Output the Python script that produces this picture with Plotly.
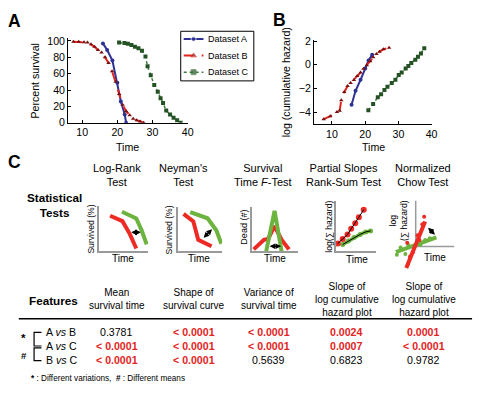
import plotly.graph_objects as go

# ---------------- data ----------------
# Panel A: percent survival vs time
a_time = [15.9, 17.1, 18.6, 20.0, 21.0, 22.1, 22.5]
a_surv = [97, 89, 76, 49, 26, 10, 0]
b_time = [7.5, 9.0, 10.5, 11.5, 12.5, 13.5, 14.5, 15.5, 16.5, 17.5, 18.5, 19.5, 20.5, 21.5, 22.5, 23.5, 24.5, 25.5, 26.5, 27.5]
b_surv = [99, 99, 98.5, 98, 96, 93, 89, 86, 80, 73, 63, 50, 35, 22, 14, 9, 5, 3, 1.5, 0]
c_time = [20.5, 22.0, 23.0, 24.0, 25.0, 26.0, 27.0, 28.0, 28.6, 29.5, 30.5, 31.5, 32.3, 33.0, 33.9, 35.0, 36.0, 37.0, 38.0]
c_surv = [98, 97.5, 96.5, 95, 93, 91, 88, 81, 69, 58, 46, 38, 30, 24, 15, 10, 6, 3, 0]

# Panel B: log cumulative hazard vs time
a_htime = [15.9, 17.1, 18.6, 20.0, 21.0, 22.1]
a_logh = [-3.39, -2.2, -1.28, -0.33, 0.35, 0.84]
b_htime = [7.5, 9.5, 11.5, 12.3, 12.8, 13.7, 14.7, 15.6, 16.6, 17.6, 18.6, 19.5, 20.5, 21.5, 22.4, 23.4, 24.3, 25.5, 27.2]
b_logh = [-4.6, -4.35, -4.0, -3.9, -3.0, -2.3, -1.8, -1.55, -1.3, -0.95, -0.67, -0.35, -0.05, 0.3, 0.63, 0.9, 1.1, 1.3, 1.44]
c_htime = [20.95, 22.4, 23.8, 24.8, 25.8, 26.7, 28.0, 29.1, 30.1, 31.0, 32.2, 33.0, 33.9, 35.1, 35.9, 36.8, 37.8]
c_logh = [-3.85, -3.31, -2.76, -2.5, -2.14, -1.87, -1.54, -1.28, -0.87, -0.67, -0.33, -0.11, 0.14, 0.41, 0.67, 0.95, 1.38]

series_names = ["Dataset A", "Dataset B", "Dataset C"]

# Panel C: schematic icons (arbitrary units)
lr_red_x = [2.3, 4.8, 6.3, 7.6]
lr_red_y = [7.9, 6.7, 3.8, 0.6]
lr_green_x = [4.7, 7.6, 8.7, 9.7]
lr_green_y = [8.8, 7.3, 4.6, 1.5]
ny_red_x = [1.3, 3.5, 4.6, 7.6]
ny_red_y = [8.5, 6.8, 2.6, 1.1]
ny_green_x = [2.8, 6.7, 8.7, 9.8]
ny_green_y = [8.9, 7.5, 4.7, 1.7]
ft_red_x = [0.4, 2.6, 3.5, 4.9, 6.4, 8.0]
ft_red_y = [0.4, 2.6, 2.8, 5.7, 2.6, 0.4]
ft_green_x = [3.1, 4.9, 6.4]
ft_green_y = [0.0, 9.2, 0.0]
ps_red_x = [0.5, 1.7, 2.9, 3.8, 4.8, 5.7, 6.9]
ps_red_y = [1.5, 2.4, 3.3, 4.4, 5.5, 6.7, 8.2]
ps_green_x = [1.7, 3.1, 4.5, 6.0, 7.4, 8.6]
ps_green_y = [1.3, 2.0, 2.7, 3.3, 3.8, 4.0]
ch_red_line_x = [-2.5, 2.5]
ch_red_line_y = [-4.9, 5.7]
ch_red_pts_x = [0.5, 1.75, -1.5, -2.0, -0.75, 2.25, 1.0, -2.25]
ch_red_pts_y = [2.55, 5.1, -2.3, -4.0, -1.3, 6.8, 1.5, 0.85]
ch_green_line_x = [-5.25, 5.5]
ch_green_line_y = [-1.3, 2.1]
ch_green_pts_x = [-4.0, -2.0, 1.25, 3.75, -2.75, 2.5, -5.0]
ch_green_pts_y = [-0.2, 0.4, 0.4, 1.9, -1.7, 1.5, -1.9]

test_names = ["Log-Rank<br>Test", "Neyman's<br>Test", "Survival<br>Time <i>F</i>-Test",
              "Partial Slopes<br>Rank-Sum Test", "Normalized<br>Chow Test"]
feature_names = ["Mean<br>survival time", "Shape of<br>survival curve", "Variance of<br>survival time",
                 "Slope of<br>log cumulative<br>hazard plot", "Slope of<br>log cumulative<br>hazard plot"]
comparisons = ["A <i>vs</i> B", "A <i>vs</i> C", "B <i>vs</i> C"]
p_values = [
    ["0.3781", "< 0.0001", "< 0.0001"],
    ["< 0.0001", "< 0.0001", "< 0.0001"],
    ["< 0.0001", "< 0.0001", "0.5639"],
    ["0.0024", "0.0007", "0.6823"],
    ["0.0001", "< 0.0001", "0.9782"],
]
significant = [
    [False, True, True],
    [True, True, True],
    [True, True, False],
    [True, True, False],
    [True, True, False],
]

# ---------------- layout helpers (pixel positions) ----------------
W, H = 484, 405
def X(p): return p / W
def Y(p): return 1 - p / H

FONT = "Arial, Liberation Sans, sans-serif"
BLUE = "#2e3192"
RED = "#e3241d"
DRED = "#7a1010"
GREEN = "#3c7a3c"
DGREEN = "#245224"
IRED = "#ee2a24"
IGREEN = "#6cb33f"
GRAY = "#9a9a9a"

fig = go.Figure()

styles = [
    dict(line=dict(color=BLUE, width=2), marker=dict(symbol="circle", size=4, color=BLUE)),
    dict(line=dict(color=RED, width=2, dash="dash"), marker=dict(symbol="triangle-up", size=4, color=DRED)),
    dict(line=dict(color=GREEN, width=1.5, dash="dot"), marker=dict(symbol="square", size=4, color=DGREEN)),
]
for (xs, ys), st, nm in zip([(a_time, a_surv), (b_time, b_surv), (c_time, c_surv)], styles, series_names):
    fig.add_trace(go.Scatter(x=xs, y=ys, name=nm, mode="lines+markers", showlegend=False,
                             xaxis="x", yaxis="y", **st))
for (xs, ys), st, nm in zip([(a_htime, a_logh), (b_htime, b_logh), (c_htime, c_logh)], styles, series_names):
    fig.add_trace(go.Scatter(x=xs, y=ys, name=nm, mode="lines+markers", showlegend=False,
                             xaxis="x2", yaxis="y2", **st))
# legend keys (axis 8 is in pixel units over the legend box)
leg_rows = [35, 52, 69]
for row, st in zip(leg_rows, styles):
    fig.add_trace(go.Scatter(x=[186, 196, 206], y=[row, row, row], mode="lines+markers", showlegend=False,
                             hoverinfo="skip", line=st["line"],
                             marker=dict(st["marker"], size=[0, 5, 0]), xaxis="x8", yaxis="y8"))

def icon_line(xs, ys, color, ax, width=4, mode="lines", msize=6):
    fig.add_trace(go.Scatter(x=xs, y=ys, mode=mode, showlegend=False, hoverinfo="skip",
                             line=dict(color=color, width=width), marker=dict(color=color, size=msize),
                             xaxis="x" + ax, yaxis="y" + ax))

icon_line(lr_red_x, lr_red_y, IRED, "3")
icon_line(lr_green_x, lr_green_y, IGREEN, "3")
icon_line(ny_red_x, ny_red_y, IRED, "4")
icon_line(ny_green_x, ny_green_y, IGREEN, "4")
icon_line(ft_red_x, ft_red_y, IRED, "5")
icon_line(ft_green_x, ft_green_y, IGREEN, "5")
icon_line(ps_green_x, ps_green_y, IGREEN, "6", width=3.5, mode="lines+markers", msize=5)
icon_line(ps_green_x, ps_green_y, "black", "6", width=1)
icon_line(ps_red_x, ps_red_y, IRED, "6", width=1.5, mode="markers", msize=6)
icon_line(ps_red_x, ps_red_y, "black", "6", width=1)
icon_line(ch_green_line_x, ch_green_line_y, IGREEN, "7", width=4)
icon_line(ch_green_pts_x, ch_green_pts_y, IGREEN, "7", mode="markers", msize=4)
icon_line(ch_red_line_x, ch_red_line_y, IRED, "7", width=4)
icon_line(ch_red_pts_x, ch_red_pts_y, IRED, "7", mode="markers", msize=4)

main_axis = dict(showline=True, linecolor="black", linewidth=1, ticks="inside", ticklen=3,
                 tickcolor="black", showgrid=False, zeroline=False,
                 tickfont=dict(size=10.6, color="black", family=FONT))
icon_axis = dict(showline=True, linecolor=GRAY, linewidth=1.5, ticks="", showticklabels=False,
                 showgrid=False, zeroline=False, range=[0, 10])
hidden_axis = dict(visible=False, showgrid=False, zeroline=False)
icon_boxes = {"3": (100, 150, 207, 253), "4": (180, 225, 208, 253), "5": (255, 302, 208, 253),
              "6": (340, 381, 201, 253)}

layout = dict(
    width=W, height=H, margin=dict(l=0, r=0, t=0, b=0), paper_bgcolor="white", plot_bgcolor="rgba(0,0,0,0)",
    font=dict(family=FONT, color="black"), showlegend=False,
    xaxis=dict(main_axis, domain=[X(69), X(190)], range=[6, 40], tickvals=[10, 20, 30, 40], anchor="y"),
    yaxis=dict(main_axis, domain=[Y(121), Y(33.6)], range=[0, 104], tickvals=[0, 20, 40, 60, 80, 100], anchor="x"),
    xaxis2=dict(main_axis, domain=[X(318), X(437)], range=[4.6, 40], tickvals=[10, 20, 30, 40], anchor="y2"),
    yaxis2=dict(main_axis, domain=[Y(122.2), Y(35.8)], range=[-5, 2.1], tickvals=[-4, -2, 0, 2], anchor="x2"),
    xaxis8=dict(hidden_axis, domain=[X(183), X(257)], range=[183, 257], anchor="y8"),
    yaxis8=dict(hidden_axis, domain=[Y(78), Y(27)], range=[78, 27], anchor="x8"),
)
for k, (x0, x1, y0, y1) in icon_boxes.items():
    layout["xaxis" + k] = dict(icon_axis, domain=[X(x0), X(x1)], anchor="y" + k)
    layout["yaxis" + k] = dict(icon_axis, domain=[Y(y1), Y(y0)], anchor="x" + k)
layout["xaxis7"] = dict(icon_axis, showline=False, domain=[X(398), X(461)], range=[-6, 10.5], anchor="y7")
layout["yaxis7"] = dict(icon_axis, showline=False, domain=[Y(273), Y(201)], range=[-5.5, 10.5], anchor="x7")
fig.update_layout(**layout)

shapes = [
    dict(type="rect", xref="paper", yref="paper", x0=X(183), y0=Y(78), x1=X(257), y1=Y(27),
         line=dict(color="black", width=1), fillcolor="rgba(0,0,0,0)"),
    dict(type="line", xref="x7", yref="y7", x0=0, y0=0, x1=0, y1=10.5, line=dict(color=GRAY, width=1.5), layer="below"),
    dict(type="line", xref="x7", yref="y7", x0=0, y0=0, x1=10.2, y1=0, line=dict(color=GRAY, width=1.5), layer="below"),
    dict(type="line", xref="paper", yref="paper", x0=X(19), y0=Y(322.5), x1=X(478), y1=Y(322.5), line=dict(color="black", width=1.5)),
    dict(type="path", xref="paper", yref="paper",
         path=f"M {X(42)} {Y(336.5)} L {X(34.5)} {Y(336.5)} L {X(34.5)} {Y(350.5)} L {X(42)} {Y(350.5)}",
         line=dict(color="black", width=1.2)),
    dict(type="path", xref="paper", yref="paper",
         path=f"M {X(42)} {Y(352.5)} L {X(34.5)} {Y(352.5)} L {X(34.5)} {Y(365.5)} L {X(42)} {Y(365.5)}",
         line=dict(color="black", width=1.2)),
]
fig.update_layout(shapes=shapes)

ann = []
def text(x, y, s, size=11, bold=False, xanchor="center", angle=0, color="black"):
    ann.append(dict(x=X(x), y=Y(y), xref="paper", yref="paper", text=("<b>%s</b>" % s) if bold else s,
                    showarrow=False, xanchor=xanchor, yanchor="middle", textangle=angle,
                    font=dict(size=size, color=color, family=FONT)))

text(15, 16, "A", size=17.5, bold=True)
text(283, 15, "B", size=17.5, bold=True)
text(15, 161, "C", size=17.5, bold=True)
text(35, 78, "Percent survival", size=10.6, angle=-90)
text(129, 146, "Time", size=10.6)
text(289, 79, "log (cumulative hazard)", size=10.6, angle=-90)
text(378, 146, "Time", size=10.6)
for row, nm in zip(leg_rows, series_names):
    text(209, row, nm, size=9, xanchor="left")

text(55, 206, "Statistical<br>Tests", size=11.7, bold=True)
for cx, name in zip([118, 186, 266, 348, 428], test_names):
    text(cx, 175, name, size=11)
text(92, 230, "Survived (%)", size=8.6, angle=-90)
text(171, 231, "Survived (%)", size=8.6, angle=-90)
text(247, 228, "Dead (#)", size=9.1, angle=-90)
text(333, 228, "log(∑ hazard)", size=8.6, angle=-90)
text(404, 221, "log<br>(∑ hazard)", size=8.6, angle=-90)
for cx, cy in [(125, 261), (202, 261), (278, 261), (361, 262), (440, 260)]:
    text(cx, cy, "Time", size=10)

def arrow(ax, x0, y0, x1, y1):
    ann.append(dict(x=x1, y=y1, ax=x0, ay=y0, xref="x" + ax, yref="y" + ax, axref="x" + ax, ayref="y" + ax,
                    text="", showarrow=True, arrowhead=2, arrowside="end+start", arrowsize=0.7,
                    arrowwidth=1.6, arrowcolor="black", startarrowhead=2, startarrowsize=0.7))
arrow("3", 6.3, 4.2, 8.5, 4.2)
arrow("4", 5.5, 2.7, 7.7, 5.0)
arrow("5", 3.5, 1.1, 6.3, 1.1)
arrow("7", 2.9, 4.6, 5.1, 2.7)

text(54, 304, "Features", size=11.7, bold=True)
col_x = [118, 196, 272, 351, 429]
for cx, name in zip(col_x, feature_names):
    text(cx, 303 if "Slope" in name else 302.5, name, size=10)
row_y = [336, 350.5, 365]
for ry, comp in zip(row_y, comparisons):
    text(45, ry, comp, size=10.6, xanchor="left")
for ci, cx in enumerate(col_x):
    for ri, ry in enumerate(row_y):
        sig = significant[ci][ri]
        text(cx, ry, p_values[ci][ri], size=10.6, bold=sig, color=RED if sig else "black")
text(24, 342, "*", size=11.5, bold=True)
text(24, 360, "#", size=9.6, bold=True)
text(29, 384, "<b>*</b> : Different variations,  <b>#</b> : Different means", size=8.2, xanchor="left")

fig.update_layout(annotations=ann)
fig.write_html("out.html", config={"displayModeBar": False},
               post_script="document.body.style.margin='0px';document.body.style.padding='0px';")
